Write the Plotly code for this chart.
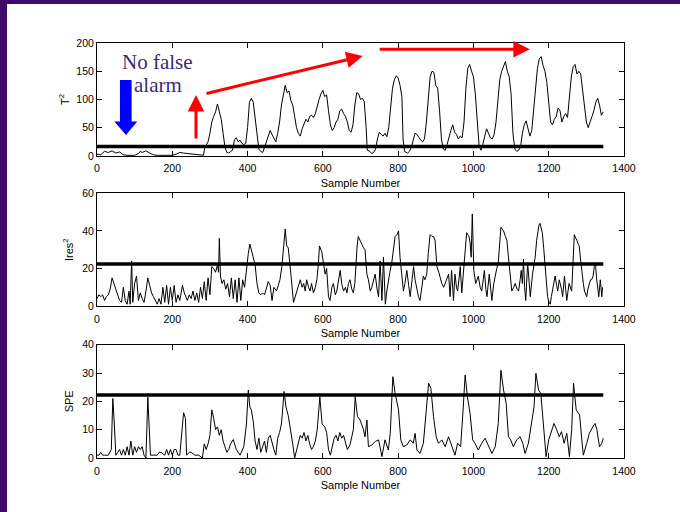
import plotly.graph_objects as go

# ---------------- data ----------------
t2_x = [0,10,20,30,40,50,60,70,80,90,100,110,115,120,130,140,150,160,170,180,190,200,210,220,230,240,250,260,270,283,
        286,290,295,300,305,310,315,320,325,330,335,340,345,350,355,360,365,370,375,380,385,390,395,400,405,410,415,420,
        425,430,435,440,445,450,455,460,465,470,475,480,485,490,495,500,505,510,515,520,525,530,535,540,545,550,555,560,
        565,570,575,580,585,590,595,600,605,610,615,620,625,630,635,640,645,650,655,660,665,670,675,680,685,690,695,700,
        705,710,715,718,725,730,735,740,745,750,755,760,765,770,775,780,785,790,795,800,805,810,813,817,825,830,835,840,
        845,850,855,860,865,870,875,880,885,890,895,900,905,910,915,920,925,930,935,940,945,950,955,960,965,970,975,980,
        985,990,995,1000,1005,1010,1015,1020,1025,1030,1035,1040,1045,1050,1055,1060,1065,1070,1075,1080,1085,1090,1095,
        1100,1105,1110,1115,1120,1125,1130,1135,1140,1145,1150,1155,1160,1165,1170,1175,1180,1185,1190,1195,1200,1205,
        1210,1215,1220,1225,1230,1235,1240,1245,1250,1255,1260,1265,1270,1275,1280,1285,1290,1295,1300,1305,1310,1315,
        1320,1325,1330,1335,1340,1345]
t2_y = [3,2,8,6,9,5,7,2,1,1,1,4,8,6,9,5,2,1,1,2,1,1,3,6,5,4,3,2,2,1,
        14,18,25,40,60,70,78,92,80,65,40,15,6,5,8,10,28,32,25,28,22,20,22,50,95,102,95,70,
        35,12,8,6,15,25,35,45,38,30,25,40,60,90,108,125,112,115,98,90,70,50,40,35,48,55,65,60,
        70,72,68,75,90,100,110,116,105,108,80,55,45,50,60,65,80,83,75,70,60,45,42,55,90,112,110,100,
        102,96,50,10,8,4,6,12,30,42,38,35,40,34,50,80,120,135,142,138,125,105,30,8,5,8,15,28,
        40,38,32,28,25,30,60,110,140,150,148,125,120,80,30,12,10,20,35,45,55,42,38,30,35,32,60,120,
        155,162,150,140,110,60,18,10,20,35,48,40,32,30,38,60,100,135,150,160,167,150,140,
        110,40,12,8,10,15,40,55,62,48,35,45,80,120,155,172,176,160,150,130,95,60,
        55,65,70,85,80,60,70,75,68,100,140,158,162,145,150,145,120,95,60,50,62,70,
        80,95,102,90,72,78]

ires_x = [0,5,10,15,20,25,30,35,40,45,50,55,60,65,70,75,80,85,88,92,95,100,105,110,115,120,125,130,135,140,145,150,
          155,160,165,170,175,180,185,190,195,200,205,210,215,220,227,232,240,245,250,255,260,265,270,275,280,285,290,
          295,300,305,310,315,320,323,325,328,332,337,342,347,352,357,362,367,372,377,382,387,392,397,402,406,410,415,
          420,425,430,435,440,445,450,455,460,465,470,477,486,491,496,500,504,508,515,522,531,540,545,549,553,557,562,
          566,570,575,580,584,588,591,597,602,606,610,615,619,624,628,633,637,642,646,650,655,660,664,668,672,677,681,
          685,688,691,694,698,703,708,712,717,721,726,730,735,739,744,748,752,757,761,766,770,774,778,783,787,792,797,
          801,805,810,814,818,823,828,832,837,841,845,850,854,858,863,867,871,876,880,885,890,894,898,903,908,912,916,
          921,925,929,934,938,942,947,951,955,958,962,965,969,973,976,979,982,985,988,991,994,997,1001,1006,1010,1013,
          1018,1022,1026,1029,1033,1036,1042,1046,1049,1054,1058,1062,1066,1070,1073,1076,1080,1085,1089,1092,1095,
          1099,1102,1107,1111,1116,1120,1124,1127,1130,1133,1136,1139,1144,1148,1151,1157,1160,1164,1168,1171,1174,
          1177,1180,1183,1187,1190,1194,1197,1201,1204,1207,1210,1214,1217,1221,1224,1228,1231,1234,1237,1242,1245,
          1248,1254,1258,1261,1265,1268,1272,1275,1278,1281,1285,1288,1292,1295,1298,1301,1304,1307,1311,1314,1318,
          1321,1324,1327,1330,1333,1337,1341,1343]
ires_y = [4,6,5,6,3,5,6,9,15,12,9,5,3,2,10,3,1,8,1,24,2,12,16,3,7,4,2,8,15,11,7,5,
          3,1,4,1,10,2,11,1,10,3,11,2,6,3,11,7,3,6,4,8,3,7,2,10,4,13,3,
          15,6,21,20,18,22,18,36,16,12,14,9,12,5,15,4,14,2,15,3,14,10,20,28,33,30,26,
          22,12,7,6,7,6,9,13,11,3,10,8,14,21,32,41,32,31,17,2,8,14,10,12,8,14,10,
          8,12,7,10,14,22,32,29,22,17,20,5,3,10,12,6,8,14,19,12,8,10,7,12,14,9,7,
          12,23,32,37,35,33,31,30,17,14,8,10,15,17,9,5,24,3,26,1,8,14,18,23,30,37,38,
          40,26,14,8,12,19,11,5,14,21,14,8,5,3,10,16,14,17,28,38,37,37,35,21,18,14,12,
          10,12,14,17,5,19,3,17,10,8,15,21,7,18,26,33,39,38,37,34,26,49,19,12,15,16,
          10,8,14,19,9,5,17,8,3,12,17,20,23,35,42,41,40,37,35,28,21,
          14,8,10,12,9,8,14,19,12,25,10,3,23,12,5,17,20,26,35,40,43,
          44,41,39,30,23,12,5,2,1,5,8,12,16,11,8,14,12,9,5,16,9,
          3,12,10,8,25,38,36,35,33,32,24,17,12,8,6,5,9,12,14,14,16,
          21,23,15,10,5,14,5,10]

spe_x = [0,5,10,15,20,30,38,42,46,50,55,60,65,70,75,80,85,90,95,100,105,110,115,120,125,130,135,138,142,150,160,165,
         170,180,185,190,195,200,205,210,215,220,230,235,238,245,250,260,270,280,285,290,295,300,305,310,315,320,325,
         330,335,340,345,350,355,362,370,380,390,397,402,406,410,415,420,425,430,435,440,445,450,455,460,465,470,475,
         480,485,490,497,502,508,515,520,525,530,535,540,545,550,555,560,565,570,575,580,585,592,598,605,610,615,620,
         625,630,635,640,645,650,655,660,665,672,681,686,692,699,708,712,717,721,730,739,748,757,765,774,779,786,792,
         801,807,814,823,832,840,845,850,858,867,874,881,887,894,901,907,916,925,934,943,951,958,966,972,978,984,991,
         998,1004,1013,1022,1031,1040,1049,1058,1066,1073,1080,1087,1093,1099,1106,1115,1124,1131,1137,1146,1155,1161,
         1166,1173,1179,1186,1193,1200,1208,1214,1221,1228,1234,1241,1248,1255,1261,1266,1273,1282,1288,1292,1301,
         1308,1317,1323,1328,1335,1341,1345]
spe_y = [1,1,2,1,1,1,3,21,12,1,2,3,1,3,1,4,1,6,1,4,2,4,3,4,1,0,21.5,12,1,1,1,2,
         2,1,3,1,3,1,3,3,1,1,16,14,1,2,2,1,1,0,5,3,5,8,17,14,10,11,8,
         10,6,4,2,3,5,6.5,3,1,4,12,24,18,17,13,6,3,7,2,4,6,2,7,8,5,3,1,
         7,9,12,23.5,18,15,10,5,0,3,6,8,7,9,6,8,5,3,4,6,10,21.5,12,11,9,3,1,
         4,7,8,6,9,7,8,5,3,4.6,10,21.6,14.6,13.4,10,7.5,13.4,4,4.6,5.8,6.4,0.5,6.4,2.8,8.7,28.7,22.8,
         17,6.4,4,4.6,6.4,5.2,8.7,2.8,1.6,5.2,15.8,26.4,24.6,14.6,7.5,5.2,6.4,4,7.5,4,1,5.2,4,15.8,29.3,21.6,15.8,
         6.4,5.2,2.8,5.2,7,4,1.6,4,12.2,31,24,19.3,7.5,6.4,4,6.4,7.5,5.2,1.6,5.2,12.2,18,
         29.9,24,22.8,10,0.5,6.4,10,12.2,10,7.5,9.3,5.2,8.7,0.5,10,26.4,17,15.2,6.4,1,5.2,
         8.7,11,12.2,10,4,5.2,7]

limit_x = [0, 1345]
t2_limit = 16.5
ires_limit = 22.4
spe_limit = 22.2

x_ticks = [0, 200, 400, 600, 800, 1000, 1200, 1400]
t2_ticks = [0, 50, 100, 150, 200]
ires_ticks = [0, 20, 40, 60]
spe_ticks = [0, 10, 20, 30, 40]

# ---------------- figure ----------------
fig = go.Figure()
line_style = dict(color="black", width=1)
thr_style = dict(color="black", width=3.5)

fig.add_trace(go.Scatter(x=t2_x, y=t2_y, mode="lines", line=line_style, xaxis="x", yaxis="y"))
fig.add_trace(go.Scatter(x=limit_x, y=[t2_limit]*2, mode="lines", line=thr_style, xaxis="x", yaxis="y"))
fig.add_trace(go.Scatter(x=ires_x, y=ires_y, mode="lines", line=line_style, xaxis="x2", yaxis="y2"))
fig.add_trace(go.Scatter(x=limit_x, y=[ires_limit]*2, mode="lines", line=thr_style, xaxis="x2", yaxis="y2"))
fig.add_trace(go.Scatter(x=spe_x, y=spe_y, mode="lines", line=line_style, xaxis="x3", yaxis="y3"))
fig.add_trace(go.Scatter(x=limit_x, y=[spe_limit]*2, mode="lines", line=thr_style, xaxis="x3", yaxis="y3"))

tickfont = dict(family="Liberation Sans, Arial", size=10.5, color="black")
titlefont = dict(family="Liberation Sans, Arial", size=11, color="black")

def xax(anchor):
    return dict(range=[0, 1400], tickvals=x_ticks, ticks="inside", ticklen=5, tickcolor="black",
                showline=True, linecolor="black", linewidth=1, mirror="ticks", showgrid=False,
                zeroline=False, tickfont=tickfont, anchor=anchor, ticklabelstandoff=3,
                title=dict(text="Sample Number", font=titlefont, standoff=5))

def yax(rng, ticks, title, dom, anchor, standoff):
    return dict(range=rng, tickvals=ticks, ticks="inside", ticklen=5, tickcolor="black",
                showline=True, linecolor="black", linewidth=1, mirror="ticks", showgrid=False,
                zeroline=False, tickfont=tickfont, domain=dom, anchor=anchor,
                title=dict(text=title, font=titlefont, standoff=standoff))

fig.update_layout(
    width=680, height=512,
    margin=dict(l=97, r=56, t=43, b=54),
    paper_bgcolor="white", plot_bgcolor="white",
    showlegend=False,
    xaxis=xax("y"), xaxis2=xax("y2"), xaxis3=xax("y3"),
    yaxis=yax([0, 200], t2_ticks, "T<sup>2</sup>", [0.728, 1.0], "x", 4),
    yaxis2=yax([0, 60], ires_ticks, "Ires<sup>2</sup>", [0.366, 0.638], "x2", 6),
    yaxis3=yax([0, 40], spe_ticks, "SPE", [0.0, 0.273], "x3", 6),
)

# purple slide frame (left and top strips)
purple = "#3d0a6b"
fig.add_shape(type="rect", xref="paper", yref="paper", x0=-0.19, x1=-0.1708, y0=-0.14, y1=1.2,
              fillcolor=purple, line=dict(width=0), layer="above")
fig.add_shape(type="rect", xref="paper", yref="paper", x0=-0.19, x1=1.2, y0=1.094, y1=1.2,
              fillcolor=purple, line=dict(width=0), layer="above")

# blue "no false alarm" arrow
fig.add_shape(type="path", xref="x", yref="y",
              path="M 61,134.5 L 92,134.5 L 92,60.7 L 107,60.7 L 77,37.2 L 46,60.7 L 61,60.7 Z",
              fillcolor="#0000ff", line=dict(width=0))

serif = dict(family="Liberation Serif, Times New Roman", size=21, color="#3d2a7a")
fig.add_annotation(x=162, y=167, xref="x", yref="y", text="No false", showarrow=False, font=serif)
fig.add_annotation(x=163, y=125, xref="x", yref="y", text="alarm", showarrow=False, font=serif)

# red arrows
for (tx, ty, fx, fy) in [(263, 108, 263, 28), (706, 177, 287, 110), (1150, 189, 747, 189)]:
    fig.add_annotation(x=tx, y=ty, ax=fx, ay=fy, xref="x", yref="y", axref="x", ayref="y",
                       text="", showarrow=True, arrowhead=2, arrowsize=1.1, arrowwidth=3,
                       arrowcolor="#ff0000", standoff=0, startstandoff=0)

fig.write_html("out.html", config={"displayModeBar": False},
               post_script="document.body.style.margin='0px';document.body.style.overflow='hidden';")
